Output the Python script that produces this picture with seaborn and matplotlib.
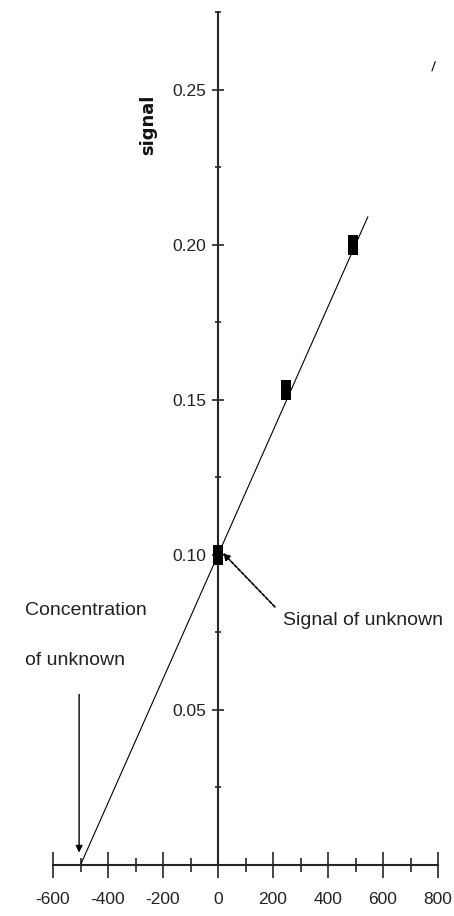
import matplotlib
matplotlib.use('Agg')
import matplotlib.pyplot as plt
import matplotlib.ticker as mticker
import seaborn as sns
import pandas as pd

# standard additions: added concentration vs measured signal
added_conc = [0, 248, 490]
signal = [0.100, 0.153, 0.200]

# fitted line, extrapolated back to the x intercept
fit_x = [-500, 545]
fit_y = [0.0, 0.209]
# stray bit of the line near the top right
stray_x = [778, 790]
stray_y = [0.256, 0.259]

x_ticks = [-600, -400, -200, 0, 200, 400, 600, 800]
y_ticks = [0.05, 0.10, 0.15, 0.20, 0.25]

sns.set_style('ticks')
plt.rcParams['font.family'] = ['Liberation Sans', 'DejaVu Sans']
plt.rcParams['axes.unicode_minus'] = False

df = pd.DataFrame({'conc': added_conc, 'signal': signal})
fit = pd.DataFrame({'x': fit_x, 'y': fit_y})
stray = pd.DataFrame({'x': stray_x, 'y': stray_y})

fig = plt.figure(figsize=(4.54, 9.16), dpi=100)
ax = fig.add_axes([53 / 454, 51 / 916, 385 / 454, 853 / 916])

sns.lineplot(data=fit, x='x', y='y', ax=ax, color='black', lw=0.8)
sns.lineplot(data=stray, x='x', y='y', ax=ax, color='black', lw=0.8)
# tall narrow box marker like the original plot
box = [(-0.23, -0.5), (0.23, -0.5), (0.23, 0.5), (-0.23, 0.5)]
sns.scatterplot(data=df, x='conc', y='signal', ax=ax, marker=box, s=205,
                color='black', edgecolor='black', linewidth=0, zorder=5,
                clip_on=False)

ax.set_xlim(-600, 800)
ax.set_ylim(0, 0.275)
ax.spines['left'].set_position(('data', 0))
ax.spines['top'].set_visible(False)
ax.spines['right'].set_visible(False)
for s in ['left', 'bottom']:
    ax.spines[s].set_linewidth(1.5)

ax.set_xticks(x_ticks)
ax.xaxis.set_minor_locator(mticker.MultipleLocator(100))
ax.set_yticks(y_ticks)
ax.yaxis.set_major_formatter(mticker.FormatStrFormatter('%.2f'))
ax.yaxis.set_minor_locator(mticker.MultipleLocator(0.025))

ax.tick_params(axis='x', which='major', direction='inout', length=19,
               width=1.2, labelsize=12.5, pad=10, labelcolor='#222')
ax.tick_params(axis='x', which='minor', direction='inout', length=9.5, width=1.2)
ax.tick_params(axis='y', which='major', direction='inout', length=8.5,
               width=1.2, labelsize=12.5, pad=4, labelcolor='#222')
ax.tick_params(axis='y', which='minor', direction='inout', length=5, width=1.2)
ax.set_xlabel('')
ax.set_ylabel('')

ax.text(-255, 0.2385, 'signal', rotation=90, ha='center', va='center',
        fontsize=13, fontweight='bold', family=['DejaVu Sans'], color='#111')

ax.text(-702, 0.0806, 'Concentration', ha='left', va='baseline',
        fontsize=14, color='#222')
ax.text(-702, 0.0645, 'of unknown', ha='left', va='baseline',
        fontsize=14, color='#222')
ax.text(236, 0.0774, 'Signal of unknown', ha='left', va='baseline',
        fontsize=14, color='#222')

ax.annotate('', xy=(-505, 0.004), xytext=(-505, 0.055),
            arrowprops=dict(arrowstyle='-|>', color='black', lw=1.0,
                            mutation_scale=10, shrinkA=0, shrinkB=0))
ax.annotate('', xy=(18, 0.1006), xytext=(207, 0.0832),
            arrowprops=dict(arrowstyle='-|>', color='black', lw=1.2,
                            linestyle=(0, (2, 1)), mutation_scale=10,
                            shrinkA=0, shrinkB=0))

fig.savefig('out.png', dpi=100)
